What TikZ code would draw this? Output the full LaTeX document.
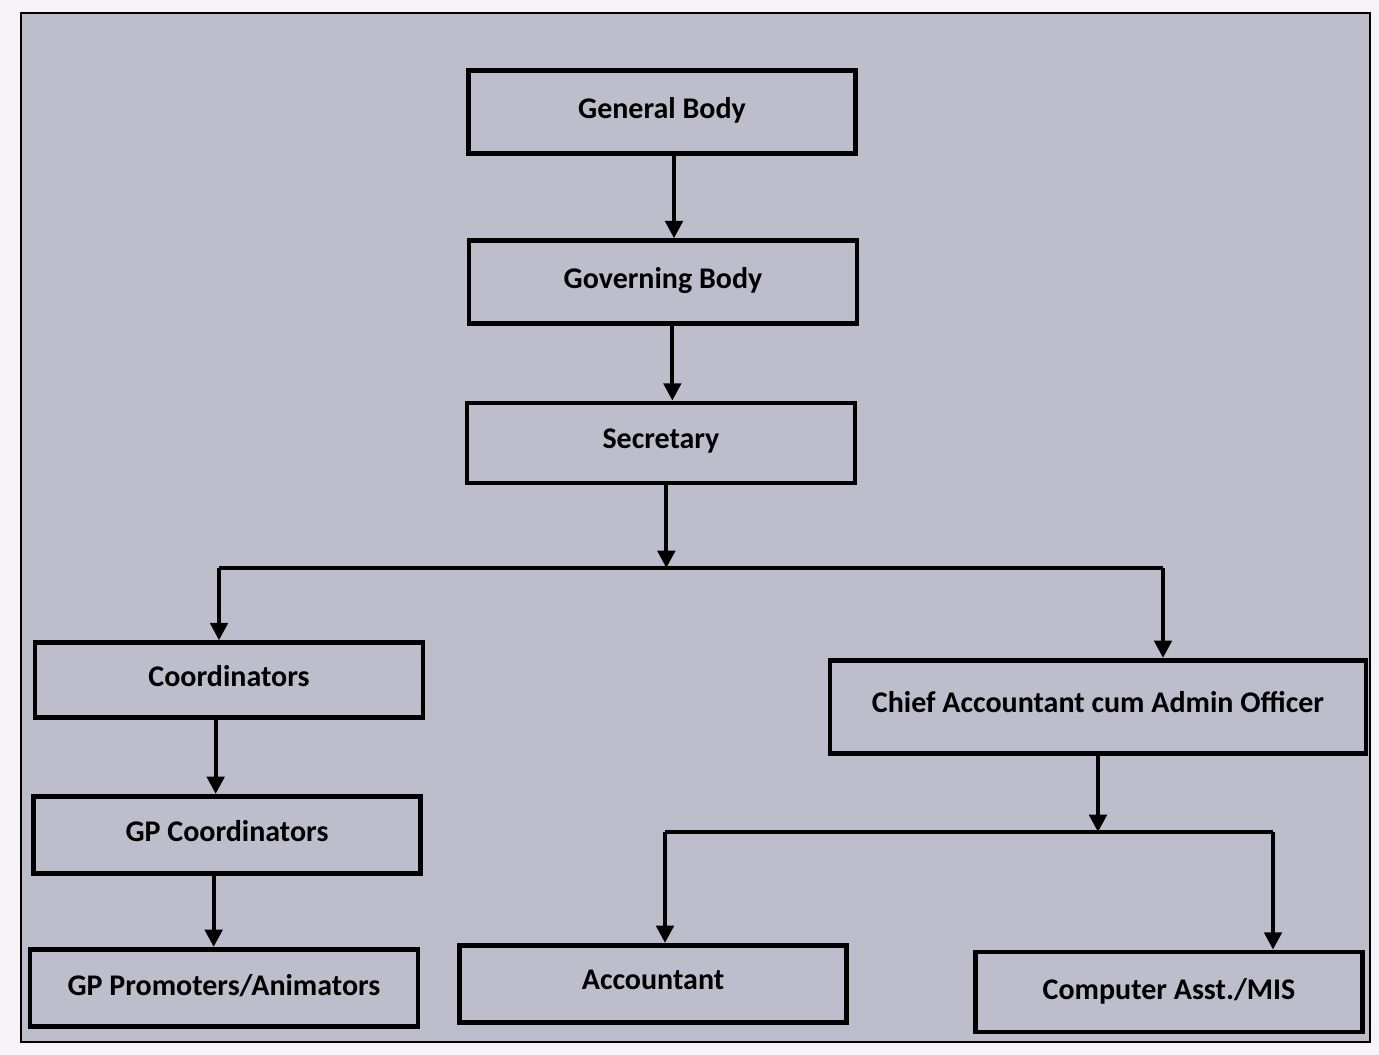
\documentclass[tikz,border=0pt]{standalone}
\usepackage{fontspec}
\setmainfont{Carlito}
\usetikzlibrary{arrows.meta}
\definecolor{paper}{RGB}{248,243,247}
\definecolor{sheet}{RGB}{189,189,203}
\tikzset{every picture/.style={line width=0.75pt}}
\tikzset{
  box/.style={draw=black, line width=3.6pt, inner sep=0pt, minimum height=60pt,
    font=\fontsize{22.5}{27}\selectfont\bfseries},
  arr/.style={line width=3pt, -{Triangle[width=13pt,length=13pt]}},
  bus/.style={line width=3pt},
}

\begin{document}
\begin{tikzpicture}[x=0.75pt,y=0.75pt,yscale=-1,xscale=1]
	\useasboundingbox (0,0) rectangle (1379,1055);
	\fill[paper] (0,0) rectangle (1379,1055);
	%Shape: Rectangle [id:sheet]
	\draw[fill=sheet, line width=1.2pt] (21,13) rectangle (1370,1042);

	% Boxes
	\node[box, minimum width=290pt, minimum height=62pt] (gb) at (662,112) {\raisebox{6pt}{General Body}};
	\node[box, minimum width=291pt, minimum height=62pt] (govb) at (663,282) {\raisebox{6pt}{Governing Body}};
	\node[box, minimum width=291pt, minimum height=60pt] (sec) at (661,443) {\raisebox{6pt}{Secretary}};
	\node[box, minimum width=291pt, minimum height=56pt] (coord) at (229,680) {\raisebox{6pt}{Coordinators}};
	\node[box, minimum width=402pt, minimum height=70pt] (chief) at (1098,707) {\raisebox{7pt}{Chief Accountant cum Admin Officer}};
	\node[box, minimum width=290pt, minimum height=58pt] (gpc) at (227,835) {\raisebox{6pt}{GP Coordinators}};
	\node[box, minimum width=291pt, minimum height=58pt] (gpp) at (224,988) {\raisebox{5pt}{GP Promoters/Animators}};
	\node[box, minimum width=290pt, minimum height=58pt] (acc) at (653,984) {\raisebox{6pt}{Accountant}};
	\node[box, minimum width=290pt, minimum height=60pt] (cmis) at (1169,992) {\raisebox{4pt}{Computer Asst./MIS}};

	% Bus lines
	\coordinate (busL) at (219,568);
	\coordinate (busR) at (1163,568);
	\coordinate (sbusL) at (665,832);
	\coordinate (sbusR) at (1273,832);

	% Connectors
	\draw[arr] ([xshift=9pt]gb.south) -- ([xshift=9pt]gb.south |- govb.north);
	\draw[arr] ([xshift=7pt]govb.south) -- ([xshift=7pt]govb.south |- sec.north);
	\draw[arr] ([xshift=4pt]sec.south) -- ([xshift=4pt]sec.south |- busL);
	\draw[bus] (busL) -- (busR);
	\draw[arr] (busL) -- (busL |- coord.north);
	\draw[arr] (busR) -- (busR |- chief.north);
	\draw[arr] ([xshift=-10pt]coord.south) -- ([xshift=-10pt]coord.south |- gpc.north);
	\draw[arr] ([xshift=-10pt]gpc.south) -- ([xshift=-10pt]gpc.south |- gpp.north);
	\draw[arr] (chief.south) -- (chief.south |- sbusL);
	\draw[bus] (sbusL) -- (sbusR);
	\draw[arr] (sbusL) -- (sbusL |- acc.north);
	\draw[arr] (sbusR) -- (sbusR |- cmis.north);

\end{tikzpicture}
\end{document}
